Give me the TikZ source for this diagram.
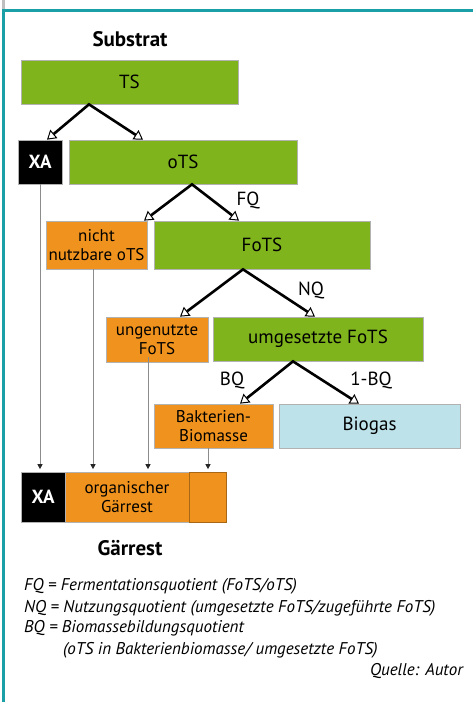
\documentclass[tikz,border=0pt]{standalone}
\usepackage{fontspec}
\setmainfont{PT Sans}
\usetikzlibrary{arrows.meta}
\definecolor{grass}{HTML}{7FB41D}
\definecolor{carrot}{HTML}{F0931E}
\definecolor{sky}{HTML}{BEE2EA}
\definecolor{rule}{HTML}{1A9FA6}
\newcommand{\boxfont}{\fontsize{19}{21}\selectfont}
\newcommand{\smallboxfont}{\fontsize{17}{19}\selectfont}
\newcommand{\notefont}{\fontsize{17}{19}\selectfont\itshape}
\tikzset{
  basebox/.style={draw=black!30,line width=0.7pt,align=center,inner sep=2pt,font=\boxfont},
  greenbox/.style={basebox,fill=grass},
  orangebox/.style={basebox,fill=carrot,font=\smallboxfont},
  bluebox/.style={basebox,fill=sky},
  ashbox/.style={basebox,fill=black,text=white,font=\boxfont\bfseries},
  split/.style={{Triangle[fill=white,line width=1pt,length=9pt,width=11pt]}-{Triangle[fill=white,line width=1pt,length=9pt,width=11pt]},line width=2.6pt,line join=miter},
  drop/.style={-{Triangle[length=5pt,width=5pt,color=black!85]},line width=1pt,draw=black!45},
  quot/.style={font=\boxfont},
  heading/.style={font=\fontsize{21}{23}\selectfont\bfseries},
  note/.style={font=\notefont,anchor=west,inner sep=0pt}
}

\begin{document}
\begin{tikzpicture}[x=1pt,y=-1pt]
  \useasboundingbox (0,0) rectangle (473,702);
  \fill[white] (0,0) rectangle (473,702);

  % frame
  \draw[black!25,line width=3pt] (3.5,0) -- (3.5,9);
  \draw[rule,line width=3pt] (3.5,9) -- (3.5,702);
  \draw[rule,line width=3pt] (5,10.5) -- (473,10.5);

  \node[heading] (substrat) at (130,39) {Substrat};

  \node[greenbox,minimum width=217pt,minimum height=44pt] (ts) at (129.5,82) {TS};
  \node[ashbox,minimum width=44pt,minimum height=44pt] (xa) at (40,162) {XA};
  \node[greenbox,minimum width=228pt,minimum height=44pt] (ots) at (183,162) {oTS};
  \node[orangebox,minimum width=101pt,minimum height=48pt] (nicht) at (96.5,245) {nicht\\nutzbare oTS};
  \node[greenbox,minimum width=216pt,minimum height=48pt] (fots) at (262,245) {FoTS};
  \node[orangebox,minimum width=102pt,minimum height=45pt] (unge) at (157,339.5) {ungenutzte\\FoTS};
  \node[greenbox,minimum width=210pt,minimum height=44pt] (umge) at (318,339) {umgesetzte FoTS};
  \node[orangebox,minimum width=119pt,minimum height=44pt] (bakt) at (213.5,426) {Bakterien-\\Biomasse};
  \node[bluebox,minimum width=181pt,minimum height=44pt] (biogas) at (369.5,426) {Biogas};

  % Gärrest
  \node[ashbox,minimum width=44pt,minimum height=50pt] (restxa) at (43,497) {XA};
  \node[orangebox,minimum width=124pt,minimum height=50pt] (restorg) at (127,497) {organischer\\Gärrest};
  \node[orangebox,draw=carrot!70!black,minimum width=37pt,minimum height=50pt] (restbio) at (207.5,497) {};
  \node[heading] (gaerrest) at (130,548) {Gärrest};

  % splits
  \draw[split] ([xshift=7pt]xa.north) -- ([xshift=-40.5pt]ts.south) -- ([xshift=-40pt]ots.north);
  \draw[split] ([xshift=47.5pt]nicht.north) -- ([xshift=9pt]ots.south) -- ([xshift=-23pt]fots.north);
  \draw[split] ([xshift=23pt]unge.north) -- ([xshift=-19pt]fots.south) -- ([xshift=-3pt]umge.north);
  \draw[split] ([xshift=26.5pt]bakt.north) -- ([xshift=-25pt]umge.south) -- ([xshift=-10.5pt]biogas.north);

  \node[quot] (fq) at (248,200) {FQ};
  \node[quot] (nq) at (311,290) {NQ};
  \node[quot] (bq) at (232,380) {BQ};
  \node[quot] (bq1) at (371,380) {1-BQ};

  % drops into the residue
  \draw[drop] (xa.south) -- ([yshift=2.5pt]xa.south |- restxa.north);
  \draw[drop] ([xshift=-3.5pt]nicht.south) -- ([xshift=-3.5pt,yshift=2.5pt]nicht.south |- restorg.north);
  \draw[drop] ([xshift=-9pt,yshift=5pt]unge.south) -- ([xshift=-9pt,yshift=2.5pt]unge.south |- restorg.north);
  \draw[drop] ([xshift=-5.5pt]bakt.south) -- ([xshift=-5.5pt,yshift=2.5pt]bakt.south |- restbio.north);

  \node[note] (fqnote) at (24,586) {FQ = Fermentationsquotient (FoTS/oTS)};
  \node[note] (nqnote) at (24,608) {NQ = Nutzungsquotient (umgesetzte FoTS/zugeführte FoTS)};
  \node[note] (bqnote) at (24,628) {BQ = Biomassebildungsquotient};
  \node[note] (bqnote2) at (63,650) {(oTS in Bakterienbiomasse/ umgesetzte FoTS)};
  \node[note,anchor=east] (quelle) at (463,671) {Quelle: Autor};
\end{tikzpicture}
\end{document}
